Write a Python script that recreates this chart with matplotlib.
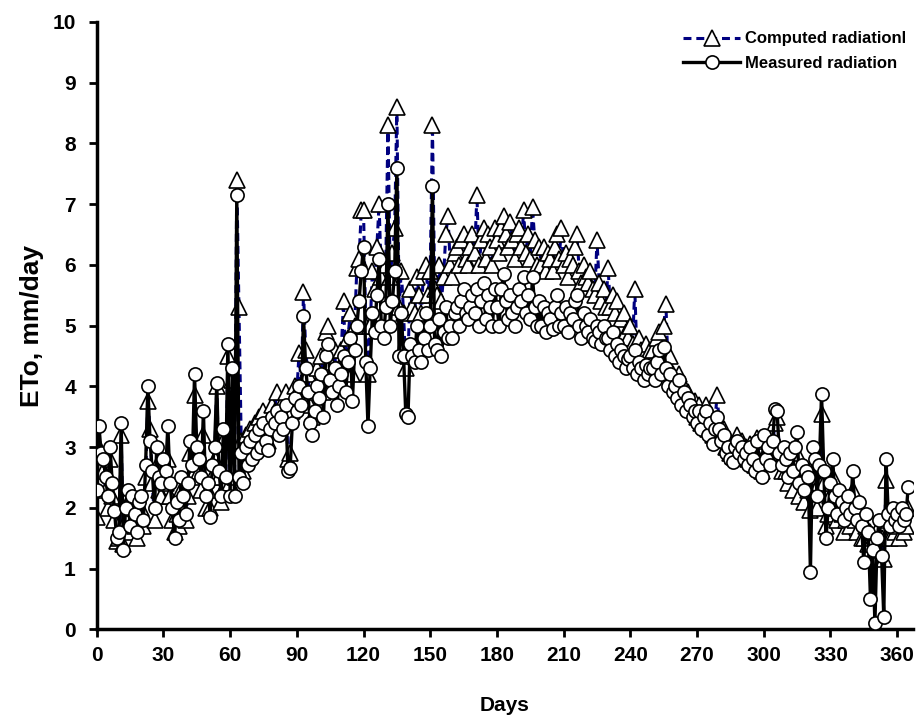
import matplotlib
matplotlib.use("Agg")
import matplotlib.pyplot as plt
import numpy as np

plt.rcParams['font.family'] = ['Liberation Sans', 'DejaVu Sans']
plt.rcParams['font.weight'] = 'bold'

# Measured radiation ETo (mm/day), days 0..365
measured = [
    2.3, 3.35, 2.9, 2.8, 2.5, 2.2, 3.0, 2.4, 1.95, 1.5,
    1.6, 3.4, 1.3, 2.0, 2.3, 1.7, 2.2, 1.9, 1.6, 2.1,
    2.2, 1.8, 2.7, 4.0, 3.1, 2.6, 2.0, 3.0, 2.5, 2.4,
    2.8, 2.6, 3.35, 2.4, 2.0, 1.5, 2.1, 1.8, 2.5, 2.2,
    1.9, 2.4, 3.1, 2.7, 4.2, 3.0, 2.8, 2.5, 3.6, 2.2,
    2.4, 1.85, 2.7, 3.0, 4.05, 2.6, 2.2, 3.3, 2.5, 4.7,
    2.2, 4.3, 2.2, 7.15, 2.5, 2.9, 2.4, 3.0, 2.7, 3.1,
    2.8, 3.2, 2.9, 3.3, 3.0, 3.4, 3.1, 2.95, 3.3, 3.5,
    3.4, 3.6, 3.2, 3.5, 3.3, 3.7, 2.6, 2.65, 3.4, 3.8,
    3.6, 4.0, 3.7, 5.15, 4.3, 3.9, 3.4, 3.2, 3.6, 4.0,
    3.8, 4.2, 3.5, 4.5, 4.7, 4.1, 3.9, 4.3, 3.7, 4.0,
    4.2, 4.5, 3.9, 4.4, 4.8, 3.75, 4.6, 5.0, 5.4, 5.9,
    6.3, 4.4, 3.35, 4.3, 5.2, 4.9, 5.5, 6.1, 5.0, 4.8,
    5.3, 7.0, 5.0, 5.4, 5.9, 7.6, 4.5, 5.2, 4.5, 3.55,
    3.5, 4.7, 4.5, 4.4, 5.0, 4.6, 4.4, 4.8, 5.2, 4.6,
    5.0, 7.3, 4.7, 4.6, 5.1, 4.5, 4.9, 5.3, 4.8, 5.0,
    4.8, 5.2, 5.3, 5.0, 5.4, 5.6, 5.2, 5.1, 5.3, 5.5,
    5.2, 5.6, 5.0, 5.4, 5.7, 5.1, 5.5, 5.3, 5.0, 5.6,
    5.3, 5.0, 5.6, 5.85, 5.4, 5.1, 5.5, 5.2, 5.0, 5.3,
    5.6, 5.4, 5.8, 5.2, 5.5, 5.1, 5.8, 5.3, 5.0, 5.4,
    5.0, 5.3, 4.9, 5.2, 5.1, 4.95, 5.3, 5.5, 5.0, 5.2,
    5.0, 5.3, 4.9, 5.2, 5.1, 5.4, 5.5, 5.0, 4.8, 5.2,
    5.0, 4.9, 5.1, 4.8, 4.75, 5.0, 4.9, 4.7, 5.0, 4.8,
    4.8, 4.6, 4.9, 4.5, 4.7, 4.4, 4.6, 4.5, 4.3, 4.45,
    4.5, 4.3, 4.6, 4.2, 4.4, 4.3, 4.1, 4.35, 4.2, 4.3,
    4.3, 4.1, 4.4, 4.6, 4.2, 4.65, 4.3, 4.0, 4.2, 3.9,
    4.0, 3.8, 4.1, 3.7, 3.9, 3.6, 3.8, 3.7, 3.5, 3.6,
    3.4, 3.6, 3.3, 3.5, 3.6, 3.2, 3.4, 3.05, 3.3, 3.5,
    3.3, 3.1, 3.2, 2.9, 3.0, 2.8, 2.75, 3.0, 3.1, 2.9,
    3.0, 2.8, 2.9, 2.7, 3.0, 2.8, 2.6, 3.1, 2.7, 2.5,
    3.2, 2.8, 3.0, 2.7, 3.1, 3.63, 3.6, 2.9, 2.7, 3.0,
    2.8, 2.5, 2.9, 2.6, 3.0, 3.25, 2.4, 2.7, 2.3, 2.6,
    2.5, 0.95, 3.0, 2.8, 2.2, 2.7, 3.88, 2.6, 1.5, 2.0,
    2.4, 2.8, 2.2, 1.9, 2.3, 2.1, 1.8, 2.0, 2.2, 1.9,
    2.6, 2.0, 1.8, 2.1, 1.7, 1.1, 1.9, 1.6, 0.5, 1.3,
    0.1, 1.5, 1.8, 1.2, 0.2, 2.8, 1.9, 1.7, 2.0, 1.8,
    1.9, 1.7, 2.0, 1.8, 1.9, 2.35,
]

# Computed radiation ETo (mm/day), days 0..365
computed = [
    1.85, 3.0, 2.7, 2.6, 2.3, 2.0, 2.8, 2.2, 1.8, 1.45,
    1.5, 3.2, 1.4, 1.8, 2.1, 1.6, 2.0, 1.7, 1.5, 1.9,
    2.0, 1.7, 2.5, 3.75, 3.3, 2.4, 1.8, 2.7, 2.3, 2.2,
    2.6, 2.4, 2.8, 2.2, 1.8, 1.6, 1.9, 1.7, 2.3, 2.0,
    1.8, 2.2, 2.9, 2.5, 3.85, 2.8, 2.6, 2.3, 3.2, 2.0,
    2.3, 2.0, 2.5, 2.8, 4.0, 2.5, 2.1, 3.1, 2.4, 4.5,
    2.4, 4.1, 2.5, 7.4, 5.3, 3.1, 2.6, 3.2, 2.9, 3.3,
    3.0, 3.4, 3.1, 3.5, 3.2, 3.6, 3.3, 3.1, 3.5, 3.7,
    3.6, 3.9, 3.4, 3.7, 3.5, 3.9, 2.8, 2.9, 3.6, 4.0,
    3.9, 4.55, 4.0, 5.55, 4.6, 4.2, 3.7, 3.5, 3.9, 4.3,
    4.1, 4.5, 3.9, 4.9, 5.0, 4.4, 4.2, 4.6, 4.0, 4.3,
    4.6, 5.4, 4.3, 4.8, 5.2, 4.2, 5.0, 5.95, 6.1, 6.9,
    6.9, 5.0, 4.2, 5.0, 5.9, 5.6, 6.3, 7.0, 5.8, 5.6,
    6.0, 8.3, 5.8, 6.2, 6.6, 8.6, 5.3, 5.9, 5.2, 4.3,
    4.5, 5.6, 5.3, 5.2, 5.8, 5.5, 5.2, 5.9, 6.0, 5.5,
    5.9, 8.3, 5.6, 5.5, 6.0, 5.4, 5.8, 6.5, 6.8, 6.0,
    5.8, 6.2, 6.3, 6.0, 6.4, 6.5, 6.1, 6.0, 6.3, 6.5,
    6.2, 7.15, 6.0, 6.4, 6.6, 6.1, 6.5, 6.3, 6.0, 6.6,
    6.4, 6.2, 6.6, 6.8, 6.5, 6.3, 6.7, 6.4, 6.1, 6.5,
    6.6, 6.3, 6.9, 6.2, 6.5, 6.1, 6.95, 6.4, 6.0, 6.3,
    6.0, 6.3, 5.9, 6.2, 6.1, 5.9, 6.3, 6.5, 6.1, 6.6,
    6.0, 6.2, 5.8, 6.1, 6.0, 6.3, 6.5, 5.9, 5.7, 6.0,
    5.8, 5.7, 5.9, 5.6, 5.5, 6.4, 5.7, 5.4, 5.6, 5.3,
    5.95, 5.3, 5.5, 5.2, 5.4, 5.0, 5.1, 5.2, 4.9, 4.8,
    5.0, 4.7, 5.6, 4.5, 4.8, 4.6, 4.4, 4.7, 4.5, 4.6,
    4.6, 4.4, 4.8, 4.9, 4.5, 5.0, 5.35, 4.3, 4.5, 4.2,
    4.1, 4.0, 4.2, 3.9, 4.0, 3.8, 3.9, 3.8, 3.7, 3.75,
    3.5, 3.7, 3.4, 3.6, 3.7, 3.3, 3.5, 3.2, 3.4, 3.85,
    3.4, 3.2, 3.3, 3.0, 3.1, 2.9, 2.85, 3.1, 3.2, 3.0,
    3.1, 2.9, 3.0, 2.8, 3.05, 2.9, 2.7, 3.15, 2.8, 2.6,
    3.1, 2.9, 2.8, 2.8, 3.0, 3.4, 3.5, 3.0, 2.6, 2.9,
    2.6, 2.4, 2.7, 2.3, 2.8, 2.9, 2.2, 2.5, 2.1, 2.4,
    2.3, 1.96, 2.7, 2.5, 2.0, 2.4, 3.55, 2.4, 1.7, 1.9,
    2.2, 2.5, 2.0, 1.8, 2.1, 1.9, 1.6, 1.8, 2.0, 1.7,
    2.3, 1.8, 1.6, 1.9, 1.5, 1.5, 1.7, 1.4, 1.6, 1.5,
    1.3, 1.6, 1.7, 1.5, 1.15, 2.45, 1.8, 1.5, 1.9, 1.6,
    1.7, 1.5, 1.9, 1.6, 1.7, 2.0,
]

days = np.arange(len(measured))

x_ticks = [0, 30, 60, 90, 120, 150, 180, 210, 240, 270, 300, 330, 360]
y_ticks = [0, 1, 2, 3, 4, 5, 6, 7, 8, 9, 10]

fig = plt.figure(figsize=(9.21, 7.25), dpi=100)
ax = fig.add_axes([0.105, 0.132, 0.886, 0.838])

ax.plot(days, computed, linestyle=(0, (2.6, 1.6)), color='#000080', linewidth=2.2,
        marker='^', markersize=11, markerfacecolor='white', markeredgecolor='black',
        markeredgewidth=1.2, label='Computed radiationl', zorder=2)
ax.plot(days, measured, linestyle='-', color='black', linewidth=2.4,
        marker='o', markersize=9.5, markerfacecolor='white', markeredgecolor='black',
        markeredgewidth=1.2, label='Measured radiation', zorder=3)

ax.set_xlim(0, 367)
ax.set_ylim(0, 10)
ax.set_xticks(x_ticks)
ax.set_yticks(y_ticks)
ax.tick_params(axis='both', which='major', width=2, length=6, direction='out')
ax.tick_params(axis='x', pad=6)
ax.tick_params(axis='y', pad=9)
ax.set_xticklabels([str(t) for t in x_ticks], fontsize=15, fontweight='bold')
ax.set_yticklabels([str(t) for t in y_ticks], fontsize=15, fontweight='bold')
for s in ['top', 'right']:
    ax.spines[s].set_visible(False)
for s in ['left', 'bottom']:
    ax.spines[s].set_linewidth(2.5)

ax.set_xlabel('Days', fontsize=15, fontweight='bold', labelpad=22)
ax.set_ylabel('ETo, mm/day', fontsize=19, fontweight='bold', labelpad=6)

leg = ax.legend(loc='upper right', bbox_to_anchor=(1.0, 0.995), borderaxespad=0.0,
                frameon=False, handlelength=3.4, handletextpad=0.3, labelspacing=0.55,
                prop={'weight': 'bold', 'size': 12})

fig.savefig('out.png', dpi=100)
